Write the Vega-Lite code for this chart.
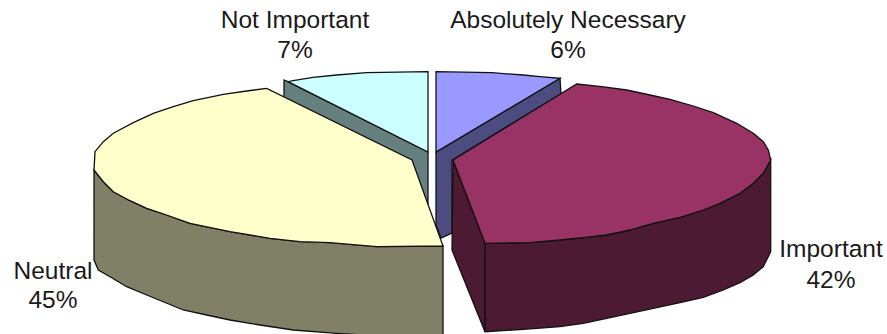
{"$schema":"https://vega.github.io/schema/vega-lite/v6.json","width":887,"height":334,"padding":0,"autosize":{"type":"fit","contains":"padding"},"background":"white","config":{"view":{"stroke":null}},
"datasets":{"slices":[
{"part":"abs_side","i":0,"x":436,"y":152},{"part":"abs_side","i":1,"x":560,"y":78.3},{"part":"abs_side","i":2,"x":561,"y":94},{"part":"abs_side","i":3,"x":452,"y":160},{"part":"abs_side","i":4,"x":452,"y":233},{"part":"abs_side","i":5,"x":441,"y":238},{"part":"abs_side","i":6,"x":436,"y":225},
{"part":"abs_top","i":0,"x":436,"y":71.7},{"part":"abs_top","i":1,"x":491.7,"y":72.7},{"part":"abs_top","i":2,"x":523.3,"y":75},{"part":"abs_top","i":3,"x":540,"y":76.7},{"part":"abs_top","i":4,"x":560,"y":78.3},{"part":"abs_top","i":5,"x":436,"y":152},
{"part":"not_side","i":0,"x":284,"y":80},{"part":"not_side","i":1,"x":288,"y":81.7},{"part":"not_side","i":2,"x":428,"y":152},{"part":"not_side","i":3,"x":428,"y":205},{"part":"not_side","i":4,"x":412,"y":170},{"part":"not_side","i":5,"x":284,"y":100},
{"part":"not_top","i":0,"x":428,"y":71.7},{"part":"not_top","i":1,"x":366.7,"y":72.7},{"part":"not_top","i":2,"x":336.7,"y":75},{"part":"not_top","i":3,"x":313,"y":77.3},{"part":"not_top","i":4,"x":293,"y":80.7},{"part":"not_top","i":5,"x":288,"y":81.7},{"part":"not_top","i":6,"x":428,"y":152},
{"part":"imp_left","i":0,"x":453,"y":160},{"part":"imp_left","i":1,"x":485,"y":243.3},{"part":"imp_left","i":2,"x":485,"y":331.7},{"part":"imp_left","i":3,"x":452,"y":250},
{"part":"imp_front","i":0,"x":485,"y":243.3},{"part":"imp_front","i":1,"x":530,"y":242.7},{"part":"imp_front","i":2,"x":560,"y":240},{"part":"imp_front","i":3,"x":583.3,"y":237.7},{"part":"imp_front","i":4,"x":606.7,"y":235},{"part":"imp_front","i":5,"x":630,"y":230},{"part":"imp_front","i":6,"x":653.3,"y":223.3},{"part":"imp_front","i":7,"x":680,"y":217.3},{"part":"imp_front","i":8,"x":703.3,"y":210},{"part":"imp_front","i":9,"x":720,"y":203.3},{"part":"imp_front","i":10,"x":740,"y":193.3},{"part":"imp_front","i":11,"x":753.3,"y":183.3},{"part":"imp_front","i":12,"x":763.3,"y":173.3},{"part":"imp_front","i":13,"x":770.7,"y":160},{"part":"imp_front","i":14,"x":770.7,"y":251.7},{"part":"imp_front","i":15,"x":763.3,"y":266.7},{"part":"imp_front","i":16,"x":753.3,"y":275},{"part":"imp_front","i":17,"x":740,"y":282.7},{"part":"imp_front","i":18,"x":723.3,"y":290},{"part":"imp_front","i":19,"x":703.3,"y":297.3},{"part":"imp_front","i":20,"x":680,"y":302.7},{"part":"imp_front","i":21,"x":653.3,"y":308.3},{"part":"imp_front","i":22,"x":630,"y":313.3},{"part":"imp_front","i":23,"x":606.7,"y":318.3},{"part":"imp_front","i":24,"x":583.3,"y":323.3},{"part":"imp_front","i":25,"x":560,"y":326.7},{"part":"imp_front","i":26,"x":523.3,"y":329.3},{"part":"imp_front","i":27,"x":485,"y":331.7},
{"part":"imp_top","i":0,"x":576.7,"y":84},{"part":"imp_top","i":1,"x":601.7,"y":86.7},{"part":"imp_top","i":2,"x":626.7,"y":90},{"part":"imp_top","i":3,"x":650,"y":95},{"part":"imp_top","i":4,"x":670,"y":99.3},{"part":"imp_top","i":5,"x":693.3,"y":106},{"part":"imp_top","i":6,"x":713.3,"y":112.7},{"part":"imp_top","i":7,"x":736.7,"y":123.3},{"part":"imp_top","i":8,"x":753.3,"y":133.3},{"part":"imp_top","i":9,"x":763.3,"y":141.7},{"part":"imp_top","i":10,"x":768.3,"y":150},{"part":"imp_top","i":11,"x":770.7,"y":160},{"part":"imp_top","i":12,"x":763.3,"y":173.3},{"part":"imp_top","i":13,"x":753.3,"y":183.3},{"part":"imp_top","i":14,"x":740,"y":193.3},{"part":"imp_top","i":15,"x":720,"y":203.3},{"part":"imp_top","i":16,"x":703.3,"y":210},{"part":"imp_top","i":17,"x":680,"y":217.3},{"part":"imp_top","i":18,"x":653.3,"y":223.3},{"part":"imp_top","i":19,"x":630,"y":230},{"part":"imp_top","i":20,"x":606.7,"y":235},{"part":"imp_top","i":21,"x":583.3,"y":237.7},{"part":"imp_top","i":22,"x":560,"y":240},{"part":"imp_top","i":23,"x":530,"y":242.7},{"part":"imp_top","i":24,"x":485,"y":243.3},{"part":"imp_top","i":25,"x":453,"y":160},
{"part":"neu_side","i":0,"x":94,"y":170},{"part":"neu_side","i":1,"x":103.3,"y":181.7},{"part":"neu_side","i":2,"x":113.3,"y":191.7},{"part":"neu_side","i":3,"x":130,"y":200.7},{"part":"neu_side","i":4,"x":146.7,"y":208.3},{"part":"neu_side","i":5,"x":166.7,"y":215},{"part":"neu_side","i":6,"x":190,"y":223.3},{"part":"neu_side","i":7,"x":230,"y":231.7},{"part":"neu_side","i":8,"x":270,"y":238.3},{"part":"neu_side","i":9,"x":300,"y":241.7},{"part":"neu_side","i":10,"x":330,"y":242.7},{"part":"neu_side","i":11,"x":376.7,"y":246.7},{"part":"neu_side","i":12,"x":443,"y":246},{"part":"neu_side","i":13,"x":443,"y":340},{"part":"neu_side","i":14,"x":336.7,"y":333.3},{"part":"neu_side","i":15,"x":293.3,"y":330},{"part":"neu_side","i":16,"x":260,"y":325},{"part":"neu_side","i":17,"x":230,"y":320},{"part":"neu_side","i":18,"x":206.7,"y":315},{"part":"neu_side","i":19,"x":183.3,"y":310},{"part":"neu_side","i":20,"x":146.7,"y":295},{"part":"neu_side","i":21,"x":126.7,"y":286.7},{"part":"neu_side","i":22,"x":110,"y":276.7},{"part":"neu_side","i":23,"x":98.3,"y":270},{"part":"neu_side","i":24,"x":94,"y":260},
{"part":"neu_top","i":0,"x":266.7,"y":88.3},{"part":"neu_top","i":1,"x":246.7,"y":91},{"part":"neu_top","i":2,"x":223.3,"y":94.3},{"part":"neu_top","i":3,"x":193.3,"y":100.7},{"part":"neu_top","i":4,"x":173.3,"y":106.7},{"part":"neu_top","i":5,"x":153.3,"y":113.3},{"part":"neu_top","i":6,"x":133.3,"y":122.7},{"part":"neu_top","i":7,"x":113.3,"y":133.3},{"part":"neu_top","i":8,"x":103.3,"y":141.7},{"part":"neu_top","i":9,"x":95,"y":151.7},{"part":"neu_top","i":10,"x":94,"y":170},{"part":"neu_top","i":11,"x":103.3,"y":181.7},{"part":"neu_top","i":12,"x":113.3,"y":191.7},{"part":"neu_top","i":13,"x":130,"y":200.7},{"part":"neu_top","i":14,"x":146.7,"y":208.3},{"part":"neu_top","i":15,"x":166.7,"y":215},{"part":"neu_top","i":16,"x":190,"y":223.3},{"part":"neu_top","i":17,"x":230,"y":231.7},{"part":"neu_top","i":18,"x":270,"y":238.3},{"part":"neu_top","i":19,"x":300,"y":241.7},{"part":"neu_top","i":20,"x":330,"y":242.7},{"part":"neu_top","i":21,"x":376.7,"y":246.7},{"part":"neu_top","i":22,"x":443,"y":246},{"part":"neu_top","i":23,"x":412,"y":160}
],
"labels":[
{"name":"Not Important","share":0.07,"x":295,"y":21,"y2":51},
{"name":"Absolutely Necessary","share":0.06,"x":568,"y":21,"y2":51},
{"name":"Important","share":0.42,"x":831,"y":250,"y2":281},
{"name":"Neutral","share":0.45,"x":53,"y":272,"y2":301}
]},
"layer":[
{"data":{"name":"slices"},
"mark":{"type":"line","interpolate":"linear-closed","stroke":"#111111","strokeWidth":1.3,"clip":true,"strokeJoin":"miter"},
"encoding":{
"x":{"field":"x","type":"quantitative","scale":{"domain":[0,887],"nice":false,"zero":false},"axis":null},
"y":{"field":"y","type":"quantitative","scale":{"domain":[334,0],"nice":false,"zero":false},"axis":null},
"detail":{"field":"part"},
"order":{"field":"i","type":"quantitative"},
"fill":{"field":"part","type":"nominal","legend":null,"scale":{"domain":["abs_side","abs_top","not_side","not_top","imp_left","imp_front","imp_top","neu_side","neu_top"],"range":["#4C4C80","#9999FF","#668080","#CCFFFF","#4D1A33","#4D1A33","#993366","#808066","#FFFFCC"]}}
}},
{"data":{"name":"labels"},
"mark":{"type":"text","font":"Liberation Sans","fontSize":24.5,"align":"center","baseline":"middle","color":"#1a1a1a"},
"encoding":{"x":{"field":"x","type":"quantitative"},"y":{"field":"y","type":"quantitative"},"text":{"field":"name"}}},
{"data":{"name":"labels"},
"mark":{"type":"text","font":"Liberation Sans","fontSize":24.5,"align":"center","baseline":"middle","color":"#1a1a1a"},
"encoding":{"x":{"field":"x","type":"quantitative"},"y":{"field":"y2","type":"quantitative"},"text":{"field":"share","type":"quantitative","format":".0%"}}}
]}
